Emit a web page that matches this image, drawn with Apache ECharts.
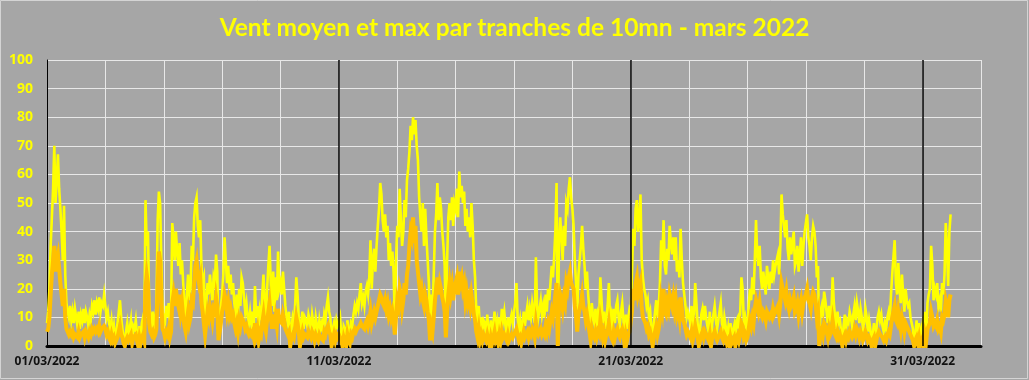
<!DOCTYPE html>
<html>
<head>
<meta charset="utf-8">
<script src="https://cdn.jsdelivr.net/npm/echarts@6/dist/echarts.min.js"></script>
<style>
html,body{margin:0;padding:0;background:#A6A6A6;}
#c{width:1029px;height:380px;}
</style>
</head>
<body>
<div id="c"></div>
<script>
// Hourly readings, one line per day (01/03 .. 31/03)
const ventMax = [
8,12,20,35,45,55,70,50,58,67,55,48,40,30,49,25,15,12,10,14,9,12,8,13,
10,7,12,6,11,9,13,8,12,10,7,11,9,14,12,16,11,15,13,17,12,15,14,18,
14,10,12,8,6,9,4,7,2,5,8,12,16,10,6,3,0,5,8,4,6,9,2,7,
6,9,4,0,7,3,8,10,5,51,35,40,15,10,8,12,6,9,14,44,54,50,30,12,
12,8,14,10,15,9,12,43,38,30,40,33,28,36,25,30,22,14,10,18,25,16,20,35,
30,45,50,52,42,38,44,28,22,24,6,15,22,18,25,20,16,24,22,32,26,4,10,14,
18,25,38,30,22,28,20,25,18,22,15,12,18,10,20,14,24,22,17,12,15,10,8,12,
8,12,6,21,10,14,5,12,9,18,25,15,10,20,28,35,22,14,26,12,24,16,33,20,
22,18,26,20,14,10,8,12,0,6,10,8,14,24,18,10,0,8,12,6,10,9,7,11,
9,6,11,8,5,10,7,4,9,6,8,5,11,9,14,17,12,10,0,6,8,5,9,7,
8,10,4,0,7,6,0,9,5,3,8,7,11,14,12,15,13,18,22,15,17,14,19,21,
18,24,37,20,30,34,26,35,42,48,57,53,44,40,46,38,42,30,36,28,33,26,8,30,
42,38,55,44,35,40,51,45,58,62,68,77,72,80,74,79,70,65,52,45,40,50,35,48,
38,30,22,5,18,12,25,40,46,57,44,52,48,40,35,28,6,30,45,50,44,52,42,50,
48,55,45,61,52,56,50,54,42,48,40,45,38,50,42,30,24,12,8,14,6,10,5,9,
8,4,11,6,0,9,3,7,12,5,8,2,10,6,13,9,12,7,4,10,6,9,11,8,
12,15,22,10,6,9,4,8,12,7,11,14,9,13,10,15,12,8,31,14,10,13,16,11,
14,10,18,12,20,16,22,28,24,31,40,57,0,36,45,38,30,42,35,50,48,55,59,52,
48,42,30,22,12,25,30,35,42,34,28,20,26,18,12,4,15,10,8,13,6,11,9,24,
24,8,12,6,10,14,22,9,11,5,13,8,14,16,10,7,12,15,9,0,11,6,10,13,
12,25,41,35,48,51,40,44,53,30,24,20,18,14,16,10,12,6,0,8,12,16,10,14,
22,37,30,44,28,25,34,30,42,36,32,38,30,38,26,30,24,41,30,22,18,14,10,12,
12,8,14,6,10,22,15,8,0,6,11,13,9,14,10,7,5,12,0,8,11,14,9,6,
9,12,15,8,5,10,7,3,6,0,8,4,5,7,0,9,10,6,12,24,20,8,10,6,
8,14,20,16,24,18,30,44,32,28,35,24,20,26,22,18,28,24,20,26,22,30,25,28,
28,32,25,35,53,46,42,38,44,34,30,38,32,36,40,28,30,35,26,32,38,28,35,40,
40,46,38,35,30,38,42,40,35,24,28,0,12,14,10,19,16,12,8,14,10,12,24,15,
10,6,12,8,9,5,0,7,11,6,9,8,12,10,7,11,14,9,15,12,8,13,10,6,
8,13,10,5,9,6,0,4,8,0,6,10,12,9,11,7,5,8,6,10,12,9,18,25,
25,37,22,18,29,20,15,25,18,12,20,16,14,15,10,8,6,0,4,9,3,8,0,6,
8,0,12,5,15,18,20,35,28,16,20,18,22,14,16,12,22,18,25,43,35,21,40,46
];
const ventMoyen = [
5,6,10,18,25,30,35,26,30,32,27,22,18,14,20,10,6,5,4,5,4,5,3,4,
4,3,5,3,4,4,5,3,5,4,3,5,4,6,5,6,5,6,5,7,5,6,6,7,
6,4,5,3,2,4,2,3,1,2,3,5,7,4,3,1,0,2,3,2,2,4,1,3,
3,4,2,0,3,1,3,4,2,20,25,22,8,5,4,5,3,4,6,20,33,30,15,6,
5,3,5,4,6,3,5,15,18,14,20,16,14,18,12,15,10,7,5,9,12,8,10,16,
15,22,28,30,25,22,24,15,12,12,4,8,12,10,14,12,9,13,12,17,14,2,5,8,
12,14,18,16,12,15,11,13,10,11,8,6,8,5,9,7,10,10,8,6,7,5,4,5,
4,5,3,8,4,6,2,5,4,8,11,7,5,9,12,15,10,6,11,6,10,7,13,9,
9,8,11,9,6,5,4,5,0,3,4,3,6,10,8,5,0,3,5,3,4,4,3,5,
4,3,5,4,2,4,3,2,4,3,3,2,5,4,6,7,5,4,0,2,4,2,4,3,
4,4,2,0,3,3,0,4,2,1,4,3,5,6,5,6,6,7,8,7,7,6,8,9,
7,9,12,8,10,12,10,12,14,16,18,17,15,14,16,13,15,11,13,10,12,9,4,10,
16,14,20,18,13,16,22,18,25,28,35,40,38,45,36,42,30,26,22,18,20,16,14,18,
16,12,9,2,7,5,10,16,20,24,18,22,20,17,15,12,3,12,18,22,18,21,16,20,
20,24,18,26,22,24,20,22,16,19,15,17,14,18,15,11,9,5,3,6,2,4,2,4,
3,2,4,2,0,3,1,3,5,2,3,1,4,2,5,3,4,3,2,4,2,3,4,3,
4,5,6,4,2,3,1,3,5,3,4,5,3,5,4,6,5,3,8,5,4,5,6,4,
5,4,7,5,8,6,9,12,10,14,18,22,0,15,18,16,13,17,15,22,20,24,26,22,
22,20,14,10,5,11,13,15,18,14,12,9,11,8,5,2,6,4,3,5,3,5,4,9,
9,3,5,2,4,5,8,4,4,2,5,3,5,6,4,3,5,6,4,0,4,2,4,5,
5,12,20,16,22,24,18,20,22,14,10,9,8,6,7,4,5,3,0,3,5,7,4,6,
9,16,13,20,12,11,15,13,18,16,14,17,13,16,11,13,10,17,13,9,8,6,4,5,
4,3,5,2,4,7,5,3,0,2,4,5,3,5,4,3,2,4,0,3,4,5,3,2,
3,4,5,3,2,4,3,1,2,0,3,1,2,3,0,3,4,2,4,8,7,3,4,2,
3,6,9,7,10,8,13,16,14,12,15,11,10,12,11,9,12,11,10,11,10,13,11,12,
12,14,11,15,22,20,18,16,19,15,13,16,14,15,17,12,13,15,11,14,16,12,15,17,
18,20,16,15,13,17,19,18,15,10,12,0,5,6,4,8,7,5,3,6,4,5,9,6,
4,3,5,3,4,2,0,3,4,2,4,3,5,4,3,4,6,4,6,5,3,5,4,2,
3,5,4,2,3,2,0,2,3,0,2,4,5,4,4,3,2,3,2,4,5,4,7,10,
10,14,9,8,12,9,6,10,8,5,8,7,6,6,4,3,2,0,2,3,1,3,0,2,
3,0,4,2,6,7,8,12,10,7,8,7,9,6,7,5,10,9,11,16,14,10,16,18
];
const dateLabels = ['01/03/2022','11/03/2022','21/03/2022','31/03/2022'];
const labelDays = [0, 10, 20, 30];
const titleText = 'Vent moyen et max par tranches de 10mn - mars 2022';

const toPairs = arr => arr.map((v, i) => [i / 24, v]);

const chart = echarts.init(document.getElementById('c'), null, {renderer: 'canvas'});
chart.setOption({
  backgroundColor: '#A6A6A6',
  animation: false,
  title: {
    text: titleText,
    left: 'center',
    top: 11,
    textStyle: {color: '#FFFF00', fontSize: 24.5, fontWeight: 'bold', fontFamily: 'Lato'}
  },
  graphic: [{
    type: 'rect', shape: {x: 0.5, y: 0.5, width: 1027, height: 378},
    style: {fill: 'none', stroke: '#D4D4D4', lineWidth: 1}, silent: true
  }],
  grid: {left: 47, right: 48, top: 60, bottom: 34, containLabel: false},
  xAxis: {
    type: 'value', min: 0, max: 32, interval: 2,
    axisLine: {show: true, lineStyle: {color: '#000', width: 3}},
    axisTick: {show: false},
    splitLine: {show: true, lineStyle: {color: '#E8E8E8', width: 1}},
    axisLabel: {
      color: '#111', fontWeight: 'bold', fontSize: 12, fontFamily: 'Noto Sans', margin: 10,
      formatter: v => { const k = labelDays.indexOf(v); return k >= 0 ? dateLabels[k] : ''; }
    }
  },
  yAxis: {
    type: 'value', min: 0, max: 100, interval: 10,
    axisLine: {show: true, lineStyle: {color: '#000', width: 1}},
    axisTick: {show: false},
    splitLine: {show: true, lineStyle: {color: '#E8E8E8', width: 1}},
    axisLabel: {color: '#FFFF00', fontWeight: 'bold', fontSize: 14, fontFamily: 'Noto Sans', margin: 14}
  },
  series: [
    {
      name: 'max', type: 'line', data: toPairs(ventMax), showSymbol: false, sampling: null,
      lineStyle: {color: '#FFFF00', width: 2.6, join: 'miter'}, itemStyle: {color: '#FFFF00'}, z: 3,
      markLine: {
        silent: true, symbol: 'none', label: {show: false},
        lineStyle: {color: '#000', width: 1.5, type: 'solid'},
        data: labelDays.slice(1).map(d => ({xAxis: d}))
      }
    },
    {
      name: 'moyen', type: 'line', data: toPairs(ventMoyen), showSymbol: false,
      lineStyle: {color: '#FFC000', width: 4, join: 'miter'}, itemStyle: {color: '#FFC000'}, z: 4
    }
  ]
});
</script>
</body>
</html>
